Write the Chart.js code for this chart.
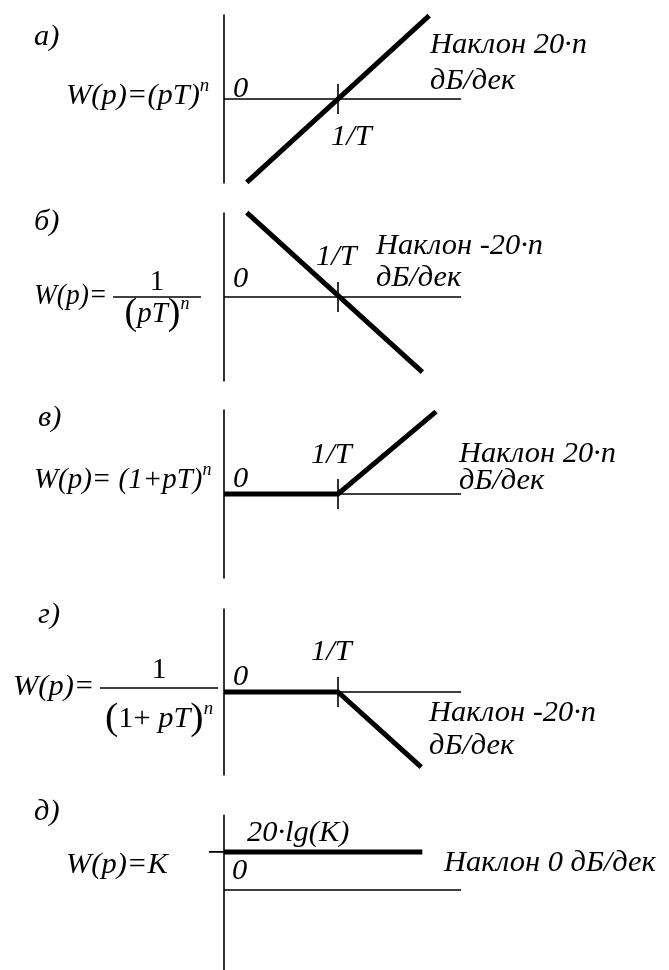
<!DOCTYPE html>
<html>
<head>
<meta charset="utf-8">
<script src="https://cdn.jsdelivr.net/npm/chart.js@4.4.1/dist/chart.umd.min.js"></script>
<style>
  html, body { margin: 0; padding: 0; background: #fff; overflow: hidden; }
  #page  { position: relative; width: 669px; height: 970px; }
  .panel { position: absolute; left: 0; width: 669px; height: 198px; }
</style>
</head>
<body>
<div id="page">
  <div class="panel" style="top:0px"><canvas id="c0" width="669" height="198"></canvas></div>
  <div class="panel" style="top:198px"><canvas id="c1" width="669" height="198"></canvas></div>
  <div class="panel" style="top:395px"><canvas id="c2" width="669" height="198"></canvas></div>
  <div class="panel" style="top:593px"><canvas id="c3" width="669" height="198"></canvas></div>
  <div class="panel" style="top:791px"><canvas id="c4" width="669" height="198"></canvas></div>
</div>
<script>
// ─────────────────────────────────────────────
//  Data  (x: decades from the vertical axis, 1/T at x = 1;  y: units of 20·n dB)
// ─────────────────────────────────────────────

const X_BREAK    = 1;      // 1/T
const X_AXIS_END = 2.08;   // end of the ω axis
const Y_TOP      = [0.82, 0.82, 0.82, 0.81, 0.73];
const Y_BOTTOM   = [-0.82, -0.82, -0.82, -0.81, -0.82];

// а) (pT)^n
const xA = [0.20, 1.80];
const yA = [-0.81, 0.81];
// б) 1/(pT)^n
const xB = [0.20, 1.74];
const yB = [0.82, -0.73];
// в) (1+pT)^n
const xC = [0, 1, 1.86];
const yC = [0, 0, 0.80];
// г) 1/(1+pT)^n
const xD = [0, 1, 1.73];
const yD = [0, 0, -0.73];
// д) K
const xE = [0, 1.74];
const yE = [0.37, 0.37];

const SERIES_X = [xA, xB, xC, xD, xE];
const SERIES_Y = [yA, yB, yC, yD, yE];

// ─────────────────────────────────────────────
//  Layout
// ─────────────────────────────────────────────

const PANEL_TOP = [0, 198, 395, 593, 791];
const FS        = 29;
const STRETCH   = 1.05;  // scanned Times is a touch wider than Liberation
const FONT      = '"Liberation Serif", "Times New Roman", serif';

// text runs, page coordinates (x = left, y = baseline, sx = extra horizontal squeeze)
const TEXTS = [
  [
    { x: 34,  y: 45,  parts: ['а)'] },
    { x: 66,  y: 104, parts: ['W(p)=(pT)', { sup: 'n' }] },
    { x: 233, y: 97,  parts: ['0'] },
    { x: 331, y: 145, parts: ['1/T'] },
    { x: 430, y: 53,  parts: ['Наклон 20·n'] },
    { x: 430, y: 89,  parts: ['дБ/дек'] },
  ],
  [
    { x: 34,  y: 230, parts: ['б)'] },
    { x: 34,  y: 304, sx: 0.9, parts: ['W(p)='] },
    { frac: true, x1: 113, x2: 201, bar: 297, numY: 290, denY: 322, sx: 0.95,
      num: [{ up: '1' }], den: [{ big: '(' }, 'pT', { big: ')' }, { sup: 'n' }] },
    { x: 233, y: 287, parts: ['0'] },
    { x: 316, y: 265, parts: ['1/T'] },
    { x: 376, y: 254, parts: ['Наклон -20·n'] },
    { x: 376, y: 286, parts: ['дБ/дек'] },
  ],
  [
    { x: 38,  y: 426, parts: ['в)'] },
    { x: 34,  y: 488, sx: 0.95, parts: ['W(p)= (1+pT)', { sup: 'n' }] },
    { x: 233, y: 487, parts: ['0'] },
    { x: 311, y: 463, parts: ['1/T'] },
    { x: 459, y: 462, parts: ['Наклон 20·n'] },
    { x: 459, y: 489, parts: ['дБ/дек'] },
  ],
  [
    { x: 38,  y: 623, parts: ['г)'] },
    { x: 13,  y: 695, parts: ['W(p)='] },
    { frac: true, x1: 100, x2: 218, bar: 688, numY: 678, denY: 727,
      num: [{ up: '1' }], den: [{ big: '(' }, { up: '1+ ' }, 'pT', { big: ')' }, { sup: 'n' }] },
    { x: 233, y: 685, parts: ['0'] },
    { x: 311, y: 660, parts: ['1/T'] },
    { x: 429, y: 721, parts: ['Наклон -20·n'] },
    { x: 429, y: 754, parts: ['дБ/дек'] },
  ],
  [
    { x: 34,  y: 820, parts: ['д)'] },
    { x: 66,  y: 873, parts: ['W(p)=K'] },
    { x: 247, y: 841, parts: ['20·lg(K)'] },
    { x: 232, y: 879, parts: ['0'] },
    { x: 444, y: 871, parts: ['Наклон 0 дБ/дек'] },
  ],
];

// ─────────────────────────────────────────────
//  Text helpers
// ─────────────────────────────────────────────

function partStyle(p) {
  if (typeof p === 'string') return { t: p, font: `italic ${FS}px ${FONT}`, dy: 0 };
  if ('sup' in p) return { t: p.sup, font: `italic ${Math.round(FS * 0.62)}px ${FONT}`, dy: -FS * 0.45 };
  if ('up' in p)  return { t: p.up,  font: `${FS}px ${FONT}`, dy: 0 };
  return { t: p.big, font: `${Math.round(FS * 1.3)}px ${FONT}`, dy: FS * 0.07 };
}

function runWidth(ctx, parts, k) {
  let w = 0;
  for (const p of parts) {
    const st = partStyle(p);
    ctx.font = st.font;
    w += ctx.measureText(st.t).width * k;
  }
  return w;
}

function drawRun(ctx, x, y, parts, k) {
  for (const p of parts) {
    const st = partStyle(p);
    ctx.font = st.font;
    ctx.save();
    ctx.translate(x, y + st.dy);
    ctx.scale(k, 1);
    ctx.fillText(st.t, 0, 0);
    ctx.restore();
    x += ctx.measureText(st.t).width * k;
  }
}

// ─────────────────────────────────────────────
//  Plugin: axes, break ticks and labels
// ─────────────────────────────────────────────

const axesPlugin = {
  id: 'lachAxes',
  beforeDatasetsDraw(chart, args, opts) {
    const i = opts.panel;
    const { ctx, scales: { x, y } } = chart;
    const x0 = x.getPixelForValue(0);
    const y0 = y.getPixelForValue(0);
    ctx.save();
    ctx.strokeStyle = '#000';
    ctx.lineWidth = 1.6;
    ctx.beginPath();
    // ω axis
    ctx.moveTo(x0, y0);
    ctx.lineTo(x.getPixelForValue(X_AXIS_END), y0);
    // L axis
    ctx.moveTo(x0, y.getPixelForValue(Y_TOP[i]));
    ctx.lineTo(x0, y.getPixelForValue(Y_BOTTOM[i]));
    if (i < 4) {
      // 1/T tick
      const xb = x.getPixelForValue(X_BREAK);
      ctx.moveTo(xb, y0 - 15);
      ctx.lineTo(xb, y0 + 15);
    } else {
      // 20·lg(K) tick
      const yl = y.getPixelForValue(yE[0]);
      ctx.moveTo(x0 - 15, yl);
      ctx.lineTo(x0, yl);
    }
    ctx.stroke();
    ctx.restore();
  },
  afterDraw(chart, args, opts) {
    const i = opts.panel;
    const ctx = chart.ctx;
    const top = PANEL_TOP[i];
    ctx.save();
    ctx.fillStyle = '#000';
    ctx.strokeStyle = '#000';
    ctx.textBaseline = 'alphabetic';
    ctx.textAlign = 'left';
    for (const item of TEXTS[i]) {
      const k = STRETCH * (item.sx || 1);
      if (item.frac) {
        ctx.beginPath();
        ctx.lineWidth = 1.4;
        ctx.moveTo(item.x1, item.bar - top);
        ctx.lineTo(item.x2, item.bar - top);
        ctx.stroke();
        const cx = (item.x1 + item.x2) / 2;
        drawRun(ctx, cx - runWidth(ctx, item.num, k) / 2, item.numY - top, item.num, k);
        drawRun(ctx, cx - runWidth(ctx, item.den, k) / 2, item.denY - top, item.den, k);
      } else {
        drawRun(ctx, item.x, item.y - top, item.parts, k);
      }
    }
    ctx.restore();
  }
};

// ─────────────────────────────────────────────
//  Charts
// ─────────────────────────────────────────────

// pixel mapping: x = 0 at 224px, 114 px per decade; y = 0 at 99px in each panel, 103 px per unit
const X_MIN = -0.2, X_MAX = 2.1;
const Y_MIN = -0.9, Y_MAX = 0.9;

function renderPanel(i) {
  const ctx = document.getElementById('c' + i).getContext('2d');
  const pts = SERIES_X[i].map((xv, k) => ({ x: xv, y: SERIES_Y[i][k] }));
  new Chart(ctx, {
    type: 'line',
    data: {
      datasets: [{
        data: pts,
        borderColor: '#000',
        borderWidth: 5,
        borderCapStyle: 'butt',
        borderJoinStyle: 'miter',
        pointRadius: 0,
        tension: 0,
        fill: false,
        clip: false,
      }]
    },
    options: {
      responsive: false,
      animation: false,
      devicePixelRatio: 1,
      layout: { padding: { left: 224 + X_MIN * 114, right: 669 - (224 + X_MAX * 114), top: 99 - Y_MAX * 103, bottom: 198 - (99 - Y_MIN * 103) } },
      plugins: {
        legend: { display: false },
        tooltip: { enabled: false },
        lachAxes: { panel: i },
      },
      scales: {
        x: { type: 'linear', min: X_MIN, max: X_MAX, display: false },
        y: { type: 'linear', min: Y_MIN, max: Y_MAX, display: false },
      }
    },
    plugins: [axesPlugin]
  });
}

for (let i = 0; i < 5; i++) renderPanel(i);
</script>
</body>
</html>
